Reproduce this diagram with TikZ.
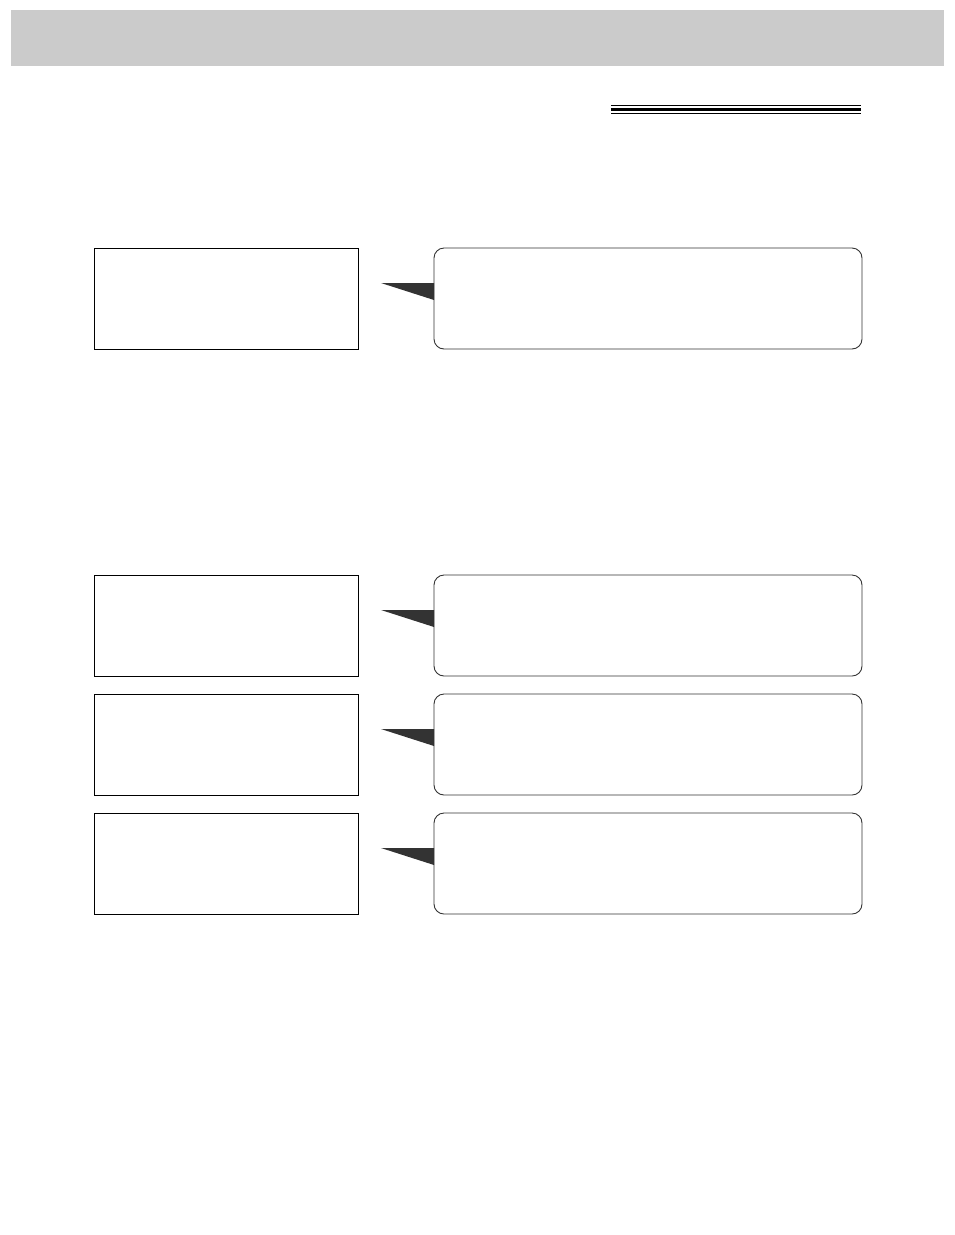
\documentclass[tikz,border=0pt]{standalone}
\usepackage{tikz}
\usetikzlibrary{positioning}
\definecolor{bandgray}{HTML}{CBCBCB}
\definecolor{ptrgray}{HTML}{333333}

\begin{document}
\begin{tikzpicture}[
  x=1pt, y=-1pt,
  keybox/.style={draw, line width=0.9pt, minimum width=264pt, minimum height=101pt,
                 inner sep=0pt, outer sep=0pt},
  msgbox/.style={draw=black!80, line width=0.9pt, rounded corners=10pt,
                 minimum width=428pt, minimum height=101pt, inner sep=0pt, outer sep=0pt},
  ptr/.style={fill=ptrgray}
]
  \useasboundingbox (0,0) rectangle (954,1235);
  % header band and title rule
  \fill[bandgray] (11,10) rectangle (944,66);
  \draw[line width=1.2pt] (611,105.7) -- (861,105.7);
  \draw[line width=3.4pt] (611,109.4) -- (861,109.4);
  \draw[line width=1.2pt] (611,113.1) -- (861,113.1);

  \node[keybox] (key1) at (226,298.5) {};
  \node[msgbox, right=76pt of key1] (msg1) {};
  \fill[ptr] ([yshift=-35pt]msg1.north west) -- ++(-53,0) -- ([yshift=-52pt]msg1.north west) -- cycle;

  \node[keybox] (key2) at (226,625.5) {};
  \node[msgbox, right=76pt of key2] (msg2) {};
  \fill[ptr] ([yshift=-35pt]msg2.north west) -- ++(-53,0) -- ([yshift=-52pt]msg2.north west) -- cycle;

  \node[keybox] (key3) at (226,744.5) {};
  \node[msgbox, right=76pt of key3] (msg3) {};
  \fill[ptr] ([yshift=-35pt]msg3.north west) -- ++(-53,0) -- ([yshift=-52pt]msg3.north west) -- cycle;

  \node[keybox] (key4) at (226,863.5) {};
  \node[msgbox, right=76pt of key4] (msg4) {};
  \fill[ptr] ([yshift=-35pt]msg4.north west) -- ++(-53,0) -- ([yshift=-52pt]msg4.north west) -- cycle;
\end{tikzpicture}
\end{document}
